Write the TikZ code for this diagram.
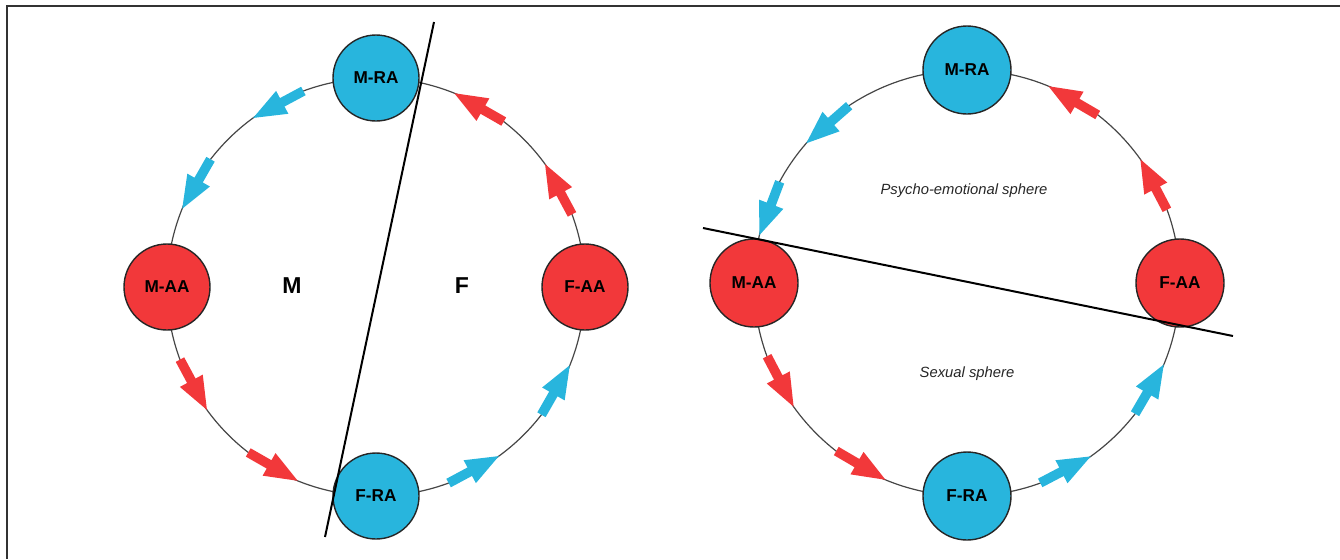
\documentclass[tikz,border=0pt]{standalone}
\usepackage{fontspec}
\setmainfont{Liberation Sans}
\usetikzlibrary{calc}

\definecolor{racyan}{RGB}{40,181,221}
\definecolor{aared}{RGB}{242,56,58}
\definecolor{ringgray}{RGB}{70,70,70}
\definecolor{framegray}{RGB}{50,50,50}

% Block arrow lying on a ring: #1 ring centre, #2 radius, #3 tip angle, #4 colour
\newcommand\ringarrow[4]{%
  \begin{scope}[shift={($(#1)+(#3:#2)$)}, rotate={#3+90-7.8}]
    \fill[#4] (0,0) -- (-33,13) -- (-33,4.8) -- (-57,4.8) -- (-57,-4.8)
      -- (-33,-4.8) -- (-33,-13) -- cycle;
  \end{scope}}

\begin{document}
\begin{tikzpicture}[x=0.5pt,y=0.5pt,
  ring/.style={draw=ringgray, line width=0.6pt},
  state/.style={circle, draw=black!85, line width=0.7pt, minimum size=43pt,
    inner sep=0pt, font=\fontsize{8.6}{10}\selectfont\bfseries},
  rastate/.style={state, fill=racyan},
  aastate/.style={state, fill=aared},
  divider/.style={draw=black, line width=1pt},
  sidelabel/.style={font=\fontsize{11.5}{13}\selectfont\bfseries},
  spherelabel/.style={font=\fontsize{7.4}{9}\selectfont\itshape, text=black!85}]

\useasboundingbox (0,0) rectangle (1340,-559);

% frame along the top and left edges
\draw[framegray, line width=1pt] (1340,-5.5) -- (7,-5.5) -- (7,-559);

% ---------- left ring: split into M and F halves ----------
\coordinate (lc) at (376,-287);
\draw[ring] (lc) circle (209);

\ringarrow{lc}{209}{126}{racyan}
\ringarrow{lc}{209}{158}{racyan}
\ringarrow{lc}{209}{216}{aared}
\ringarrow{lc}{209}{248}{aared}
\ringarrow{lc}{209}{306}{racyan}
\ringarrow{lc}{209}{338}{racyan}
\ringarrow{lc}{209}{36}{aared}
\ringarrow{lc}{209}{68}{aared}

\node[rastate] (lmra) at ($(lc)+(90:209)$) {M-RA};
\node[aastate] (lmaa) at ($(lc)+(180:209)$) {M-AA};
\node[rastate] (lfra) at ($(lc)+(270:209)$) {F-RA};
\node[aastate] (lfaa) at ($(lc)+(0:209)$) {F-AA};

\coordinate (ltop) at (434,-22);
\coordinate (lbot) at (325,-537);
\draw[divider] (ltop) -- (lbot);

\node[sidelabel] (lm) at (292,-286) {M};
\node[sidelabel] (lf) at (462,-286) {F};

% ---------- right ring: psycho-emotional and sexual spheres ----------
\coordinate (rc) at (967,-283);
\draw[ring] (rc) circle (213);

\ringarrow{rc}{213}{139}{racyan}
\ringarrow{rc}{213}{167}{racyan}
\ringarrow{rc}{213}{215.5}{aared}
\ringarrow{rc}{213}{247.5}{aared}
\ringarrow{rc}{213}{305.5}{racyan}
\ringarrow{rc}{213}{337.5}{racyan}
\ringarrow{rc}{213}{35.5}{aared}
\ringarrow{rc}{213}{67.5}{aared}

\node[rastate, minimum size=44pt] (rmra) at ($(rc)+(90:213)$) {M-RA};
\node[aastate, minimum size=44pt] (rmaa) at ($(rc)+(180:213)$) {M-AA};
\node[rastate, minimum size=44pt] (rfra) at ($(rc)+(270:213)$) {F-RA};
\node[aastate, minimum size=44pt] (rfaa) at ($(rc)+(0:213)$) {F-AA};

\coordinate (rleft) at (703,-228);
\coordinate (rright) at (1233,-336);
\draw[divider] (rleft) -- (rright);

\node[spherelabel] (psy) at (964,-191) {Psycho-emotional sphere};
\node[spherelabel] (sex) at (967,-374) {Sexual sphere};

\end{tikzpicture}
\end{document}
